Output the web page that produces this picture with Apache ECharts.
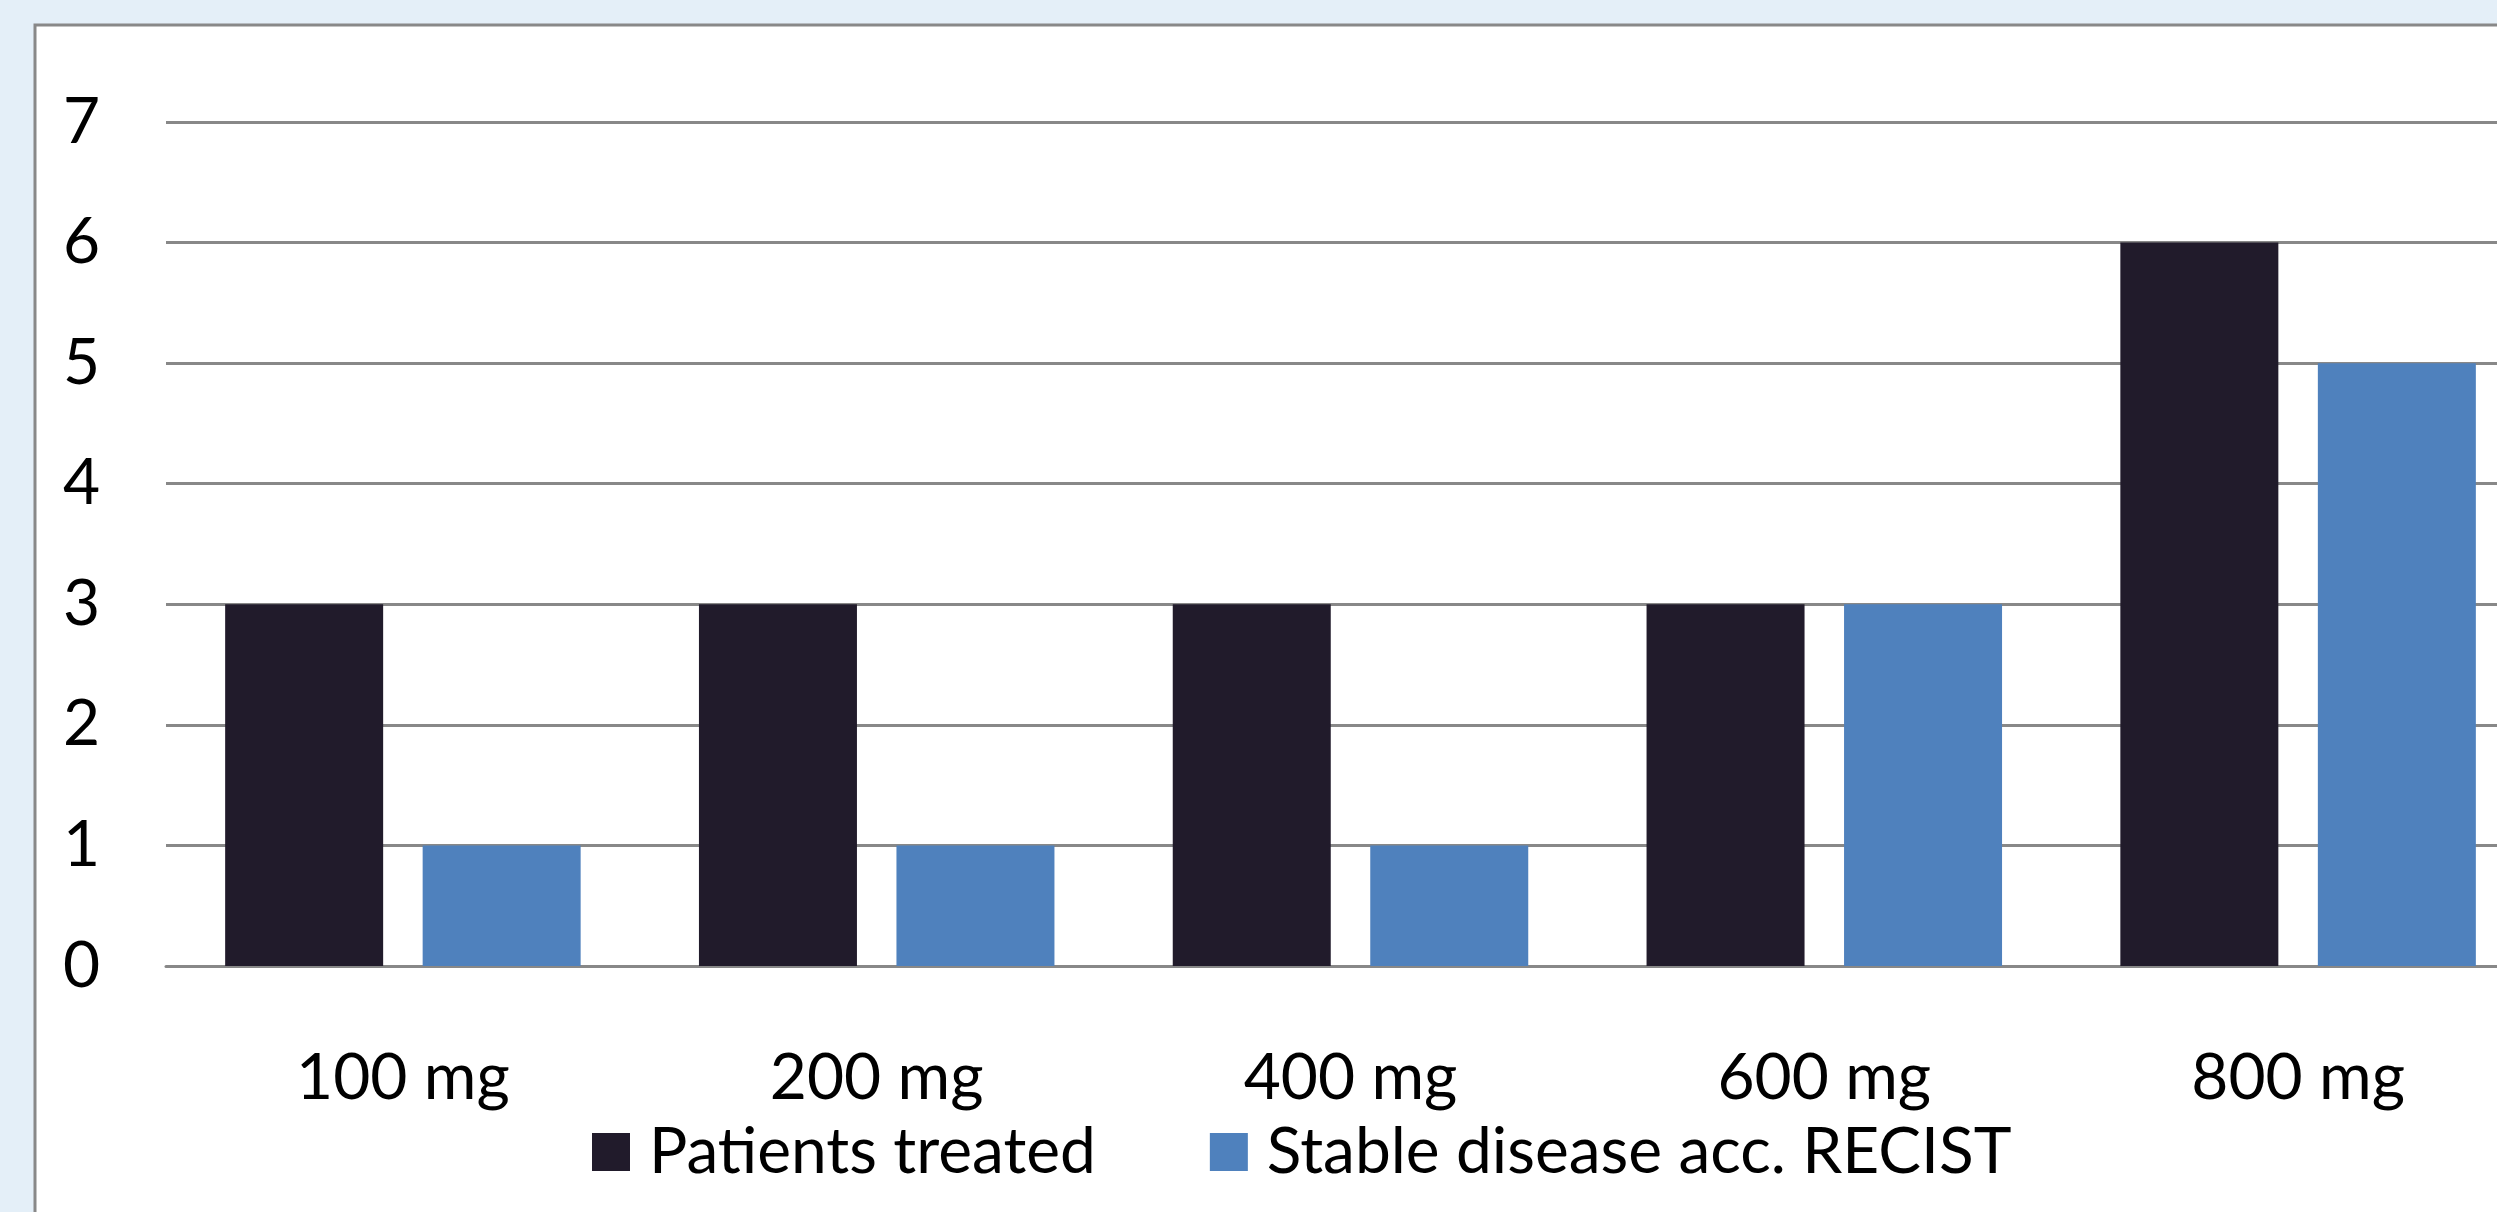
<!DOCTYPE html>
<html>
<head>
<meta charset="utf-8">
<script src="https://cdn.jsdelivr.net/npm/echarts@6/dist/echarts.min.js"></script>
<style>
html,body{margin:0;padding:0;background:#E4EFF8;}
#chart{width:2497px;height:1212px;}
</style>
</head>
<body>
<div id="chart"></div>
<script>
const categories = ['100 mg', '200 mg', '400 mg', '600 mg', '800 mg'];
const patientsTreated = [3, 3, 3, 3, 6];
const stableDisease = [1, 1, 1, 3, 5];
const seriesNames = ['Patients treated', 'Stable disease acc. RECIST'];
const yTicks = { min: 0, max: 7, interval: 1 };

const FONT = 'Lato';
const chart = echarts.init(document.getElementById('chart'));
chart.setOption({
  backgroundColor: '#E4EFF8',
  animation: false,
  graphic: [{
    type: 'rect',
    z: -100,
    silent: true,
    shape: { x: 35, y: 25, width: 2600, height: 1400 },
    style: { fill: '#ffffff', stroke: '#888888', lineWidth: 3 }
  }],
  grid: { left: 166, right: -38, top: 122, bottom: 246, containLabel: false, outerBoundsMode: 'none' },
  legend: {
    left: 592, top: 1120, padding: 0,
    icon: 'rect', itemWidth: 38, itemHeight: 38, itemGap: 114,
    textStyle: { fontFamily: FONT, fontSize: 64, color: '#000', padding: [0, 0, 0, 14] },
    data: seriesNames
  },
  xAxis: {
    type: 'category',
    data: categories,
    axisTick: { show: false },
    axisLine: { lineStyle: { color: '#888888', width: 3 } },
    axisLabel: { fontFamily: FONT, fontSize: 64, color: '#000', margin: 80 }
  },
  yAxis: {
    type: 'value',
    min: yTicks.min, max: yTicks.max, interval: yTicks.interval,
    axisLine: { show: false },
    axisTick: { show: false },
    splitLine: { lineStyle: { color: '#888888', width: 3 } },
    axisLabel: { fontFamily: FONT, fontSize: 64, color: '#000', margin: 66 }
  },
  series: [
    { name: seriesNames[0], type: 'bar', data: patientsTreated, barWidth: 158, barGap: '25%',
      itemStyle: { color: '#211B2B' } },
    { name: seriesNames[1], type: 'bar', data: stableDisease, barWidth: 158, barGap: '25%',
      itemStyle: { color: '#4F81BD' } }
  ]
});
</script>
</body>
</html>
